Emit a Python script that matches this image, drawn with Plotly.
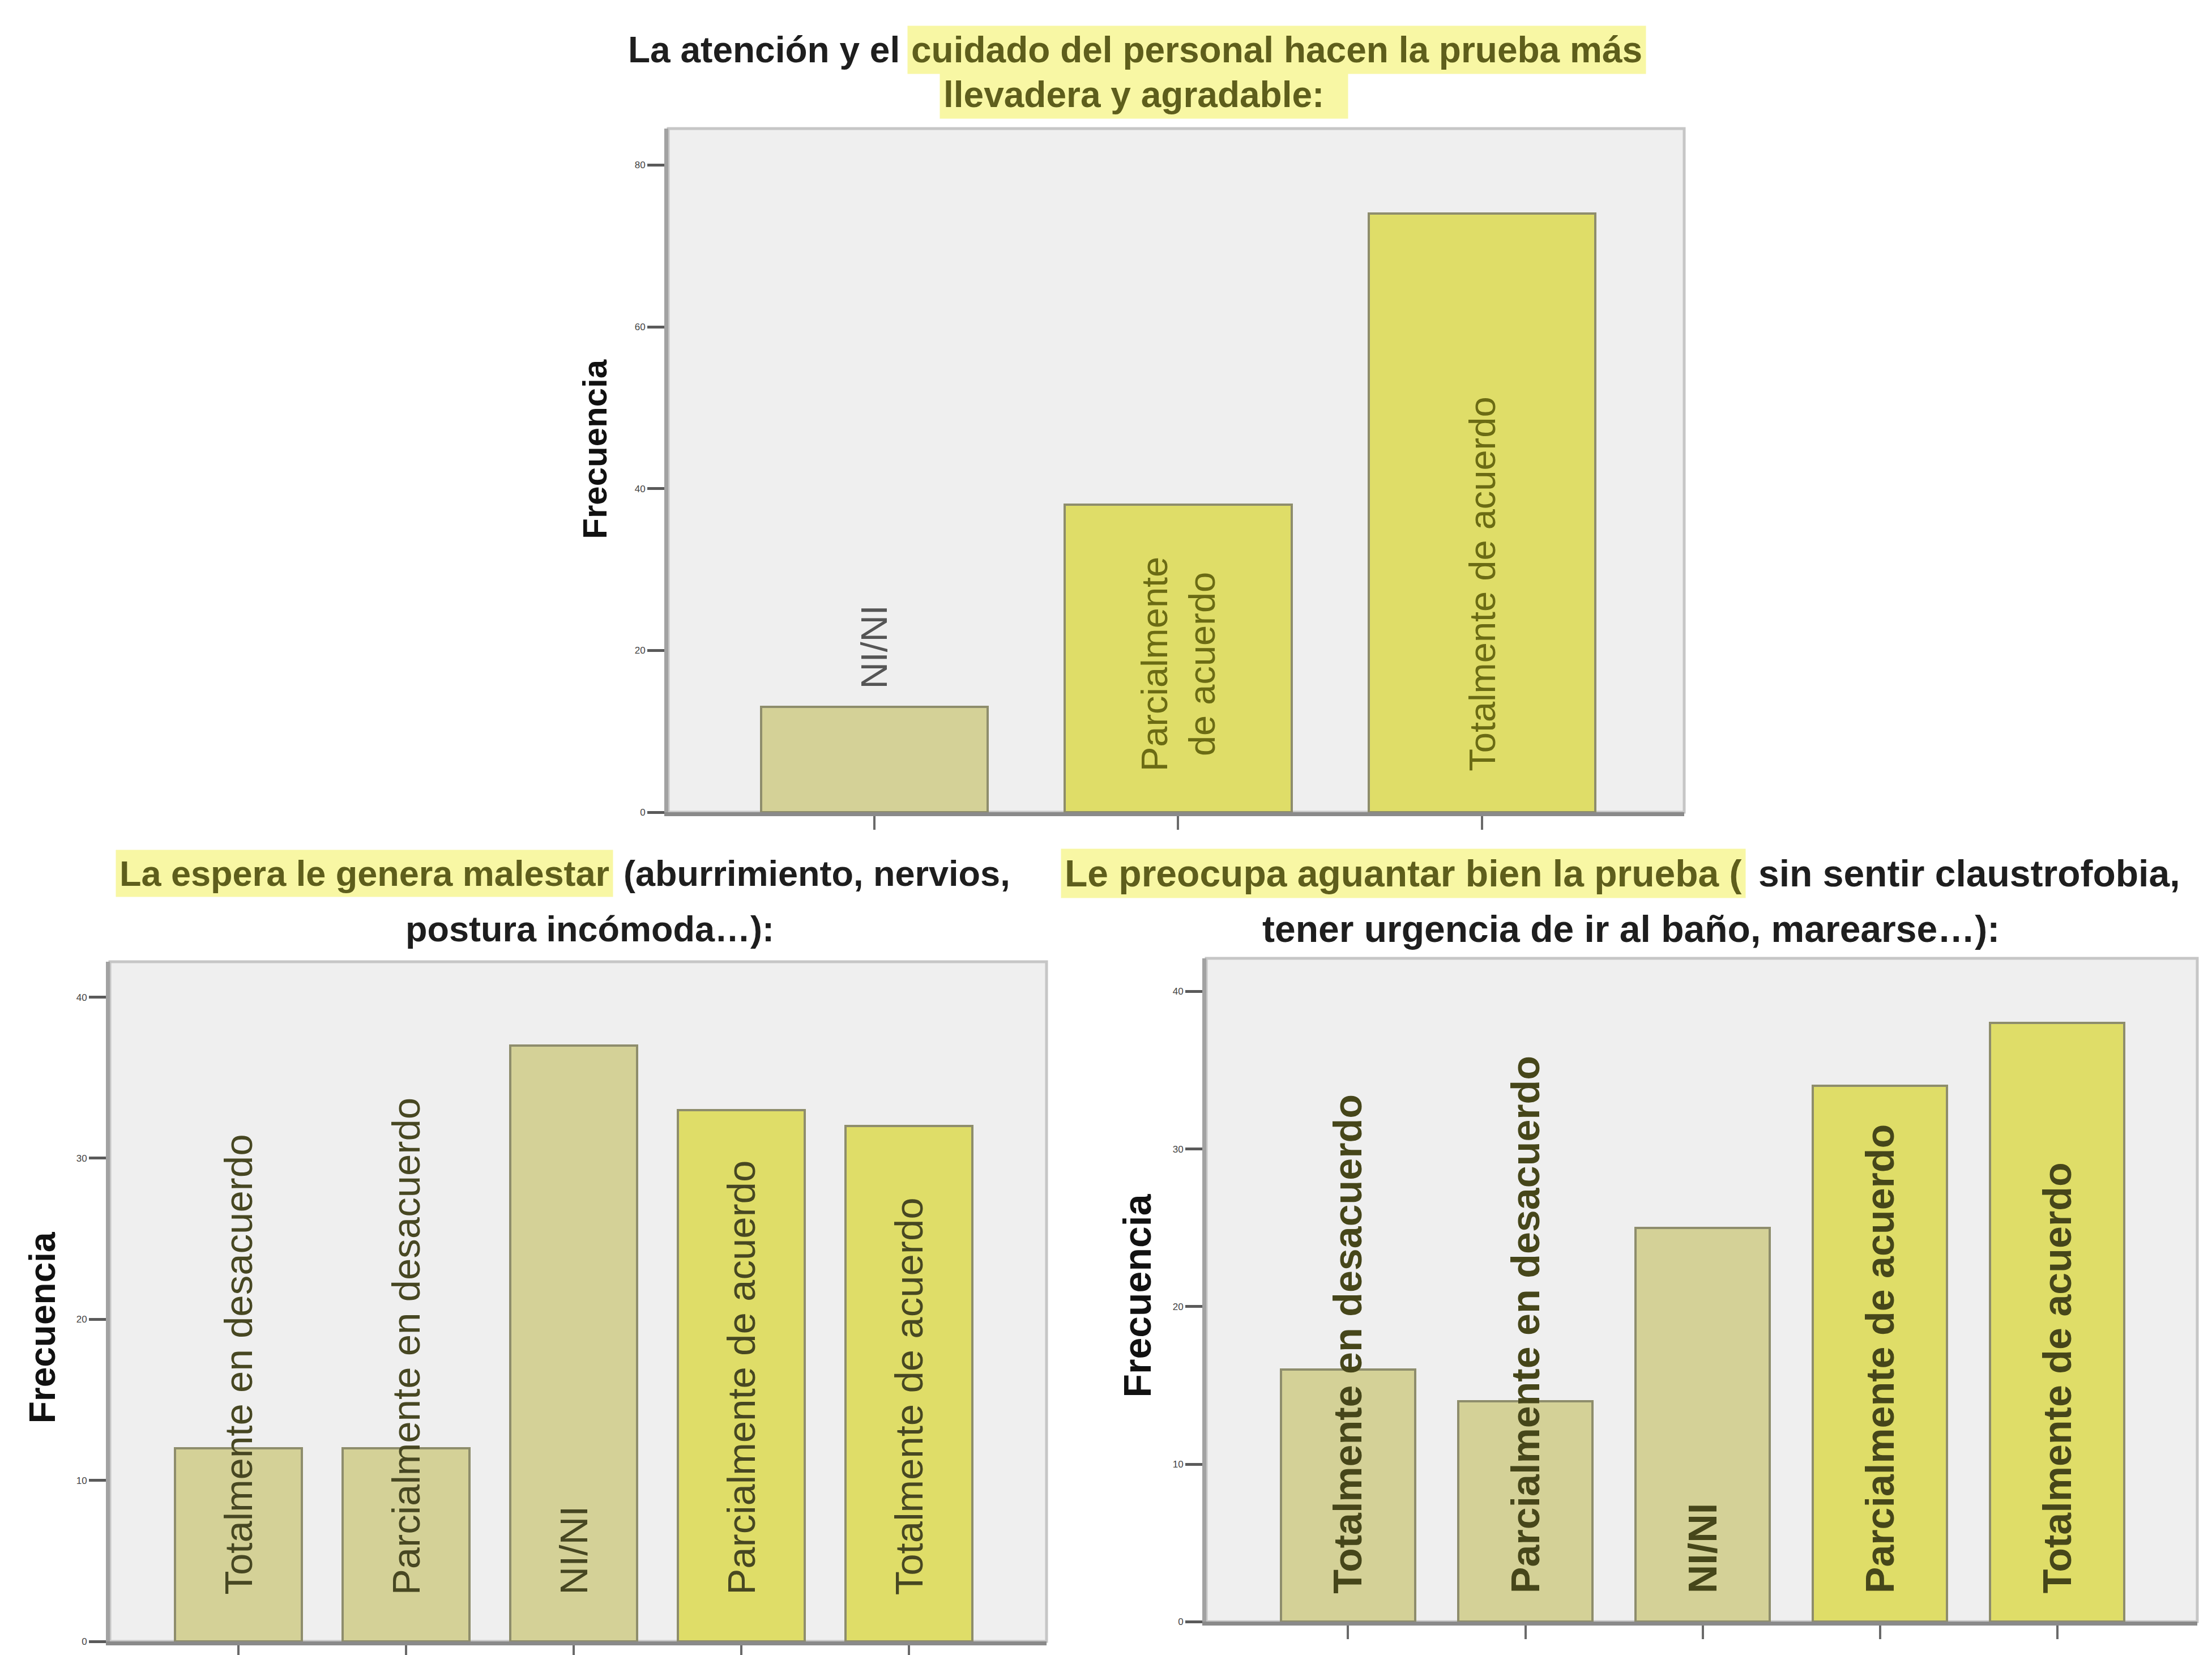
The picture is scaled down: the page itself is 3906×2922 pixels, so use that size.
import plotly.graph_objects as go

W, H = 3906, 2922

# ---------------- data ----------------
cat_atencion = ["NI/NI", "Parcialmente de acuerdo", "Totalmente de acuerdo"]
freq_atencion = [13, 38, 74]

cat_escala = ["Totalmente en desacuerdo", "Parcialmente en desacuerdo", "NI/NI",
              "Parcialmente de acuerdo", "Totalmente de acuerdo"]
freq_espera = [12, 12, 37, 33, 32]
freq_aguantar = [16, 14, 25, 34, 38]

ticks_atencion = [0, 20, 40, 60, 80]
ticks_escala = [0, 10, 20, 30, 40]

# ---------------- style ----------------
FONT = "Liberation Sans, Arial, sans-serif"
KHAKI = "#d4d197"
YELLOW = "#dfdd68"
BAR_EDGE = "#8e8d6c"
HILITE = "#f8f7a4"
HILITE_TXT = "#5e5e1c"
PLOT_BG = "#efefef"


def bar_color(cat):
    return YELLOW if cat.endswith("de acuerdo") else KHAKI


def px_x(v):
    return v / W


def px_y(v):
    return 1 - v / H


# panel geometry (paper fractions) and axis ranges
panels = [
    dict(name="atencion", cats=cat_atencion, vals=freq_atencion, ticks=ticks_atencion,
         dom_x=[px_x(1180), px_x(2974)], dom_y=[px_y(1440), px_y(228)],
         xr=[-0.678, 2.665], yr=[0, 84.5], width=0.746),
    dict(name="espera", cats=cat_escala, vals=freq_espera, ticks=ticks_escala,
         dom_x=[px_x(194), px_x(1848)], dom_y=[px_y(2910), px_y(1705)],
         xr=[-0.767, 4.82], yr=[0, 42.2], width=0.757),
    dict(name="aguantar", cats=cat_escala, vals=freq_aguantar, ticks=ticks_escala,
         dom_x=[px_x(2130), px_x(3880)], dom_y=[px_y(2875), px_y(1699)],
         xr=[-0.80, 4.79], yr=[0, 42.1], width=0.756),
]

fig = go.Figure()
layout = {}
annotations = []
shapes = []

for i, p in enumerate(panels):
    k = "" if i == 0 else str(i + 1)
    xa, ya = "x" + k, "y" + k
    pos = list(range(len(p["cats"])))
    fig.add_trace(go.Bar(
        x=pos, y=p["vals"], width=p["width"],
        marker=dict(color=[bar_color(c) for c in p["cats"]],
                    line=dict(color=BAR_EDGE, width=4)),
        xaxis=xa, yaxis=ya, showlegend=False, hoverinfo="skip",
    ))
    layout["xaxis" + k] = dict(
        domain=p["dom_x"], range=p["xr"], anchor=ya,
        tickvals=pos, showticklabels=False, ticks="outside", ticklen=24,
        tickwidth=4, tickcolor="#6a6a6a", showgrid=False, zeroline=False,
        showline=True, linecolor="#8a8a8a", linewidth=7,
    )
    layout["yaxis" + k] = dict(
        domain=p["dom_y"], range=p["yr"], anchor=xa,
        tickvals=p["ticks"], ticks="outside", ticklen=30, tickwidth=5,
        tickcolor="#5a5a5a", tickfont=dict(family=FONT, size=17, color="#444"),
        showgrid=False, zeroline=False,
        showline=True, linecolor="#a2a2a2", linewidth=7,
    )
    # light frame around the plotting area
    shapes.append(dict(type="rect", xref=xa + " domain", yref=ya + " domain",
                       x0=0, x1=1, y0=0, y1=1, layer="below",
                       line=dict(color="#c6c6c6", width=5)))

# ---------------- category labels inside / above the bars ----------------
atencion_labels = ["NI/NI", "Parcialmente<br>de acuerdo", "Totalmente de acuerdo"]
for j, (lab, v) in enumerate(zip(atencion_labels, freq_atencion)):
    short = v < 20
    annotations.append(dict(
        x=j, y=v if short else 0, xref="x", yref="y", text=lab, showarrow=False,
        textangle=-90, xanchor="center", yanchor="bottom",
        yshift=30 if short else 70,
        font=dict(family=FONT, size=65, color="#6b6b14" if not short else "#555"),
    ))

for idx, (p, shift, size, col, weight) in enumerate([
        (panels[1], 80, 69, "#474722", "normal"),
        (panels[2], 48, 70, "#46461a", "bold")]):
    k = str(idx + 2)
    for j, lab in enumerate(p["cats"]):
        annotations.append(dict(
            x=j, y=0, xref="x" + k, yref="y" + k, text=lab, showarrow=False,
            textangle=-90, xanchor="center", yanchor="bottom", yshift=shift,
            font=dict(family=FONT, size=size, color=col, weight=weight),
        ))

# ---------------- axis titles ----------------
for (cx, cy, size) in [(1051, 797, 60), (75, 2354, 64), (2008, 2297, 68)]:
    annotations.append(dict(
        x=px_x(cx), y=px_y(cy), xref="paper", yref="paper", text="Frecuencia",
        showarrow=False, textangle=-90, xanchor="center", yanchor="middle",
        font=dict(family=FONT, size=size, color="#111", weight="bold"),
    ))

# ---------------- panel headings (partly highlighted) ----------------


def heading(text, x, y, anchor, hl, size):
    annotations.append(dict(
        x=px_x(x), y=px_y(y), xref="paper", yref="paper", text=text,
        showarrow=False, xanchor=anchor, yanchor="middle",
        bgcolor=HILITE if hl else "rgba(0,0,0,0)", borderpad=6,
        font=dict(family=FONT, size=size, weight="bold",
                  color=HILITE_TXT if hl else "#1e1e1e"),
    ))


heading("La atención y el", 1596, 88, "right", False, 64)
heading("cuidado del personal hacen la prueba más", 1602, 88, "left", True, 64)
heading("llevadera y agradable:&nbsp;&nbsp;", 2020, 168, "center", True, 64)

heading("La espera le genera malestar", 204, 1548, "left", True, 63)
heading("(aburrimiento, nervios,", 1094, 1548, "left", False, 63)
heading("postura incómoda…):", 1041, 1647, "center", False, 63)

heading("Le preocupa aguantar bien la prueba (", 1873, 1548, "left", True, 66)
heading("sin sentir claustrofobia,", 3098, 1548, "left", False, 66)
heading("tener urgencia de ir al baño, marearse…):", 2880, 1647, "center", False, 66)

fig.update_layout(
    width=W, height=H, margin=dict(l=0, r=0, t=0, b=0),
    paper_bgcolor="white", plot_bgcolor=PLOT_BG,
    annotations=annotations, shapes=shapes, bargap=0,
    **layout,
)

fig.write_html("out.html")
